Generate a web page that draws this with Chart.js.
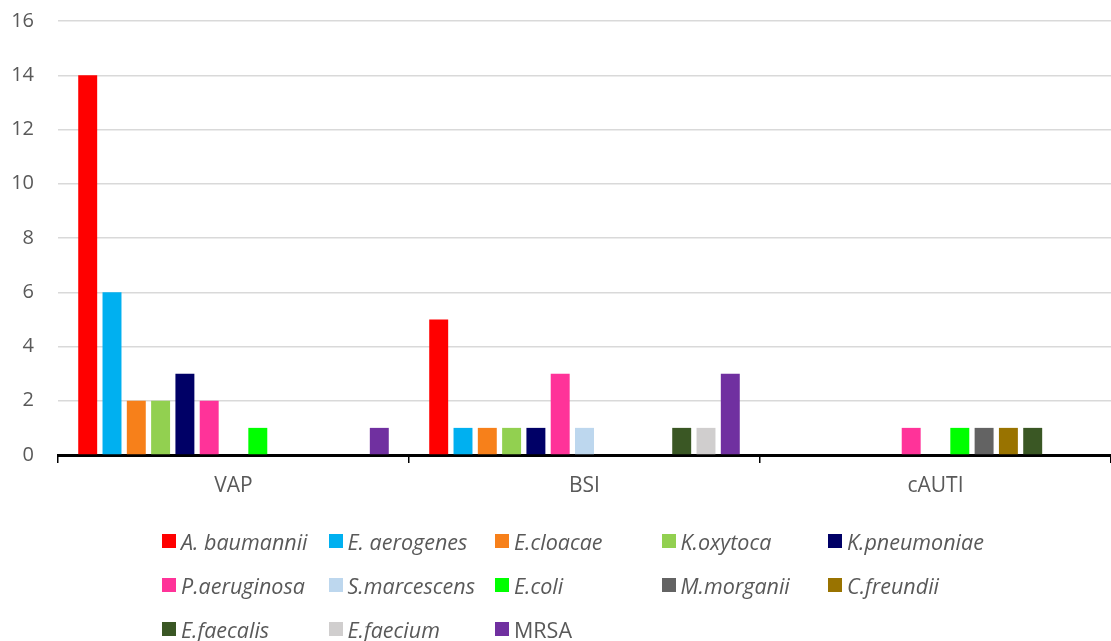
<!DOCTYPE html>
<html>
<head>
<meta charset="utf-8">
<script src="https://cdn.jsdelivr.net/npm/chart.js@4.4.0/dist/chart.umd.min.js"></script>
<style>
  html, body { margin: 0; padding: 0; background: #fff; }
  #wrap { position: relative; width: 1111px; height: 641px; }
  #legend { position: absolute; left: 0; top: 0; width: 1111px; height: 641px; pointer-events: none; }
  .item { position: absolute; display: flex; align-items: center; font-family: "Open Sans", sans-serif;
          font-size: 21.5px; color: #595959; white-space: nowrap; }
  .box { width: 14px; height: 14px; margin-right: 5px; }
</style>
</head>
<body>
<div id="wrap">
  <canvas id="chart" width="1111" height="641"></canvas>
  <div id="legend"></div>
</div>
<script>
// categories and tick values
const categories = ['VAP', 'BSI', 'cAUTI'];
const yTicks = [0, 2, 4, 6, 8, 10, 12, 14, 16];

// one array per organism: [VAP, BSI, cAUTI]
const aBaumannii   = [14, 5, 0];
const eAerogenes   = [6, 1, 0];
const eCloacae     = [2, 1, 0];
const kOxytoca     = [2, 1, 0];
const kPneumoniae  = [3, 1, 0];
const pAeruginosa  = [2, 3, 1];
const sMarcescens  = [0, 1, 0];
const eColi        = [1, 0, 1];
const mMorganii    = [0, 0, 1];
const cFreundii    = [0, 0, 1];
const eFaecalis    = [0, 1, 1];
const eFaecium     = [0, 1, 0];
const mrsa         = [1, 3, 0];

const seriesNames = ['A. baumannii', 'E. aerogenes', 'E.cloacae', 'K.oxytoca', 'K.pneumoniae',
  'P.aeruginosa', 'S.marcescens', 'E.coli', 'M.morganii', 'C.freundii', 'E.faecalis', 'E.faecium', 'MRSA'];
const seriesValues = [aBaumannii, eAerogenes, eCloacae, kOxytoca, kPneumoniae, pAeruginosa,
  sMarcescens, eColi, mMorganii, cFreundii, eFaecalis, eFaecium, mrsa];
const seriesColors = ['#FF0000', '#00B0F0', '#F7801A', '#92D050', '#000066', '#FF3399',
  '#BDD7EE', '#00FF00', '#636363', '#997300', '#3A5724', '#D0CECE', '#7030A0'];
const italicNames = [true, true, true, true, true, true, true, true, true, true, true, true, false];

const datasets = seriesNames.map(function (name, i) {
  return {
    label: name,
    data: seriesValues[i],
    backgroundColor: seriesColors[i],
    categoryPercentage: 0.9,
    barPercentage: 0.78
  };
});

const ctx = document.getElementById('chart').getContext('2d');
const chart = new Chart(ctx, {
  type: 'bar',
  data: { labels: categories, datasets: datasets },
  options: {
    responsive: false,
    animation: false,
    layout: { padding: { top: 21, right: 0, bottom: 140, left: 0 } },
    plugins: { legend: { display: false }, tooltip: { enabled: false } },
    scales: {
      x: {
        offset: true,
        grid: { offset: true, drawOnChartArea: false, drawTicks: true, tickLength: 8, color: '#000', lineWidth: 1.5 },
        border: { display: true, color: '#000', width: 3 },
        ticks: { color: '#595959', font: { family: 'Open Sans', size: 21 }, padding: 10 },
        afterFit: function (scale) { scale.height = 46; }
      },
      y: {
        min: 0,
        max: 16,
        afterBuildTicks: function (scale) { scale.ticks = yTicks.map(function (v) { return { value: v }; }); },
        // invisible tick marks give the gap between labels and the plot
        grid: { color: '#D9D9D9', lineWidth: 1.5, drawTicks: true, tickLength: 24, tickColor: 'rgba(0,0,0,0)' },
        border: { display: false },
        ticks: { color: '#595959', font: { family: 'Open Sans', size: 20 }, padding: 0 },
        afterFit: function (scale) { scale.width = 58; }
      }
    }
  }
});

// legend drawn as html, 5 columns
const legend = document.getElementById('legend');
seriesNames.forEach(function (name, i) {
  const col = i % 5, row = Math.floor(i / 5);
  const el = document.createElement('div');
  el.className = 'item';
  el.style.left = (162 + col * 166.5) + 'px';
  el.style.top = (541 + row * 44 - 14) + 'px';
  el.style.height = '28px';
  el.style.fontStyle = italicNames[i] ? 'italic' : 'normal';
  el.innerHTML = '<span class="box" style="background:' + seriesColors[i] + '"></span><span>' + name + '</span>';
  legend.appendChild(el);
});
</script>
</body>
</html>
